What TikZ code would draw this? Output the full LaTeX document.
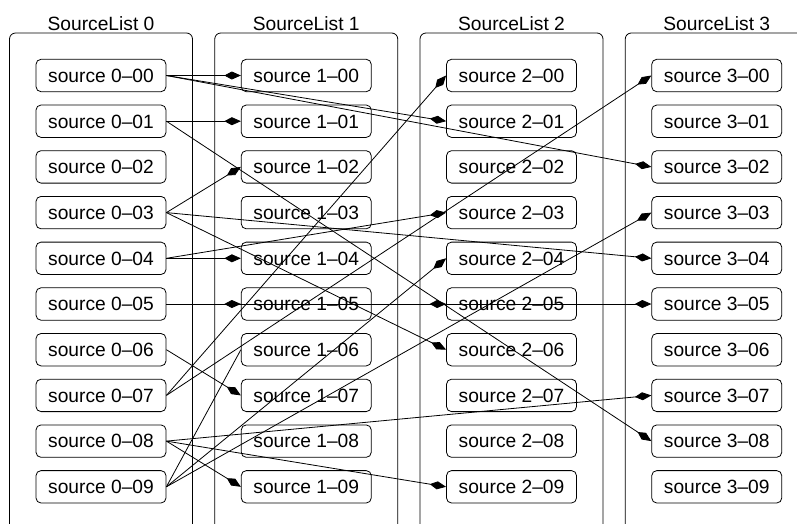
\documentclass[tikz,border=0pt]{standalone}
\usepackage{fontspec}
\setmainfont{Liberation Sans}
\usetikzlibrary{arrows.meta}
\begin{document}
\begin{tikzpicture}[x=1pt,y=-1pt,
  srcbox/.style={draw, rounded corners=5pt, minimum width=130pt, minimum height=32.4pt,
    inner sep=0pt, line width=0.8pt, font=\fontsize{19.2pt}{22pt}\selectfont,
    text height=13.7pt, text depth=0pt},
  listbox/.style={draw, rounded corners=6pt, line width=0.8pt},
  listtitle/.style={anchor=base, inner sep=0pt, font=\fontsize{19.2pt}{22pt}\selectfont},
  edge/.style={-{Kite[length=16.5pt,width=8pt,inset=7.5pt]}, line width=0.8pt},
  plainedge/.style={line width=0.8pt}]
\useasboundingbox (0,0) rectangle (797,523);
\begin{scope}
\clip (0,0) rectangle (797,523);
\foreach \c in {0,...,3} {
  \pgfmathsetmacro\cx{101+205.25*\c}
  \draw[listbox] (\cx-91.5,530) -- (\cx-91.5,33) -- (\cx+91.5,33) -- (\cx+91.5,530);
  \node[listtitle] (t\c) at (\cx,30) {SourceList \c};
  \foreach \r in {0,...,9} {
    \node[srcbox] (n\c\r) at (\cx,{75.5+45.7*\r}) {source \c–0\r};
  }
}
\end{scope}
\foreach \a/\b in {00/10,00/21,00/32, 01/11,01/38, 03/12,03/34,03/26, 04/14,04/23,
  05/15,05/25,05/35, 06/17, 07/20,07/30, 08/19,08/29,08/37, 09/24,09/33} {
  \draw[edge] (n\a.east) -- (n\b.west);
}
\draw[plainedge] (n09.east) -- (n16.west);
\end{tikzpicture}
\end{document}
